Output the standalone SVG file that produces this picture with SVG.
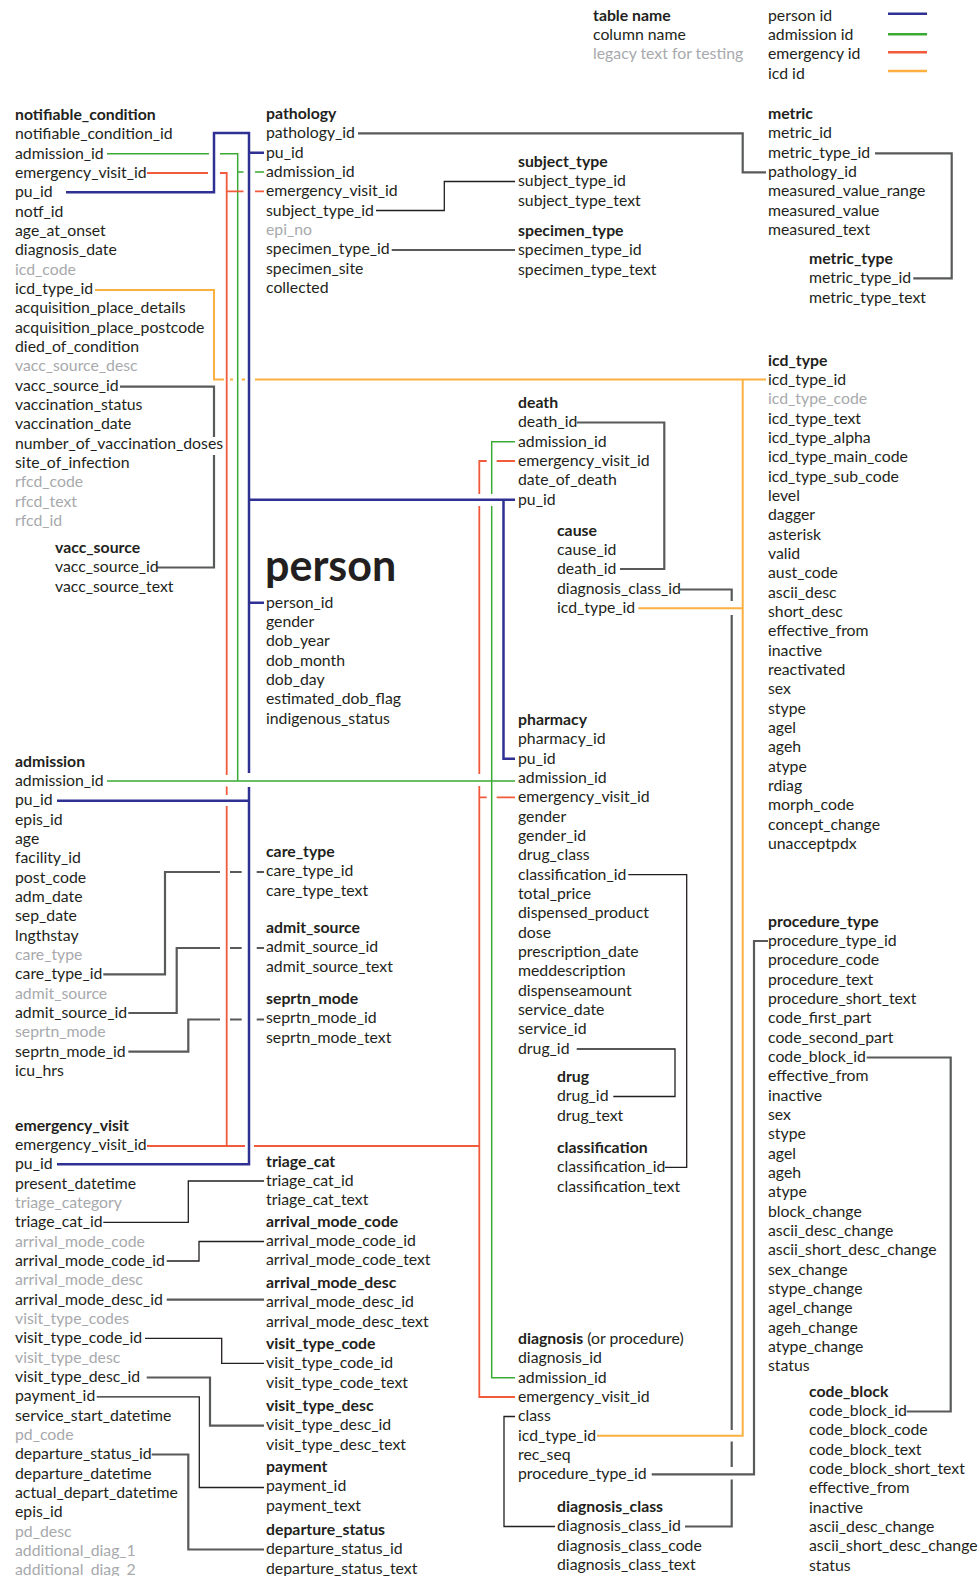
<svg xmlns="http://www.w3.org/2000/svg" width="979" height="1576" viewBox="0 0 979 1576">
<style>
text{font-family:Lato,"Liberation Sans",sans-serif;font-size:15.8px;fill:#231f20}
.b{font-weight:bold}
.g{fill:#a7a9ac}
.big{font-size:43px;font-weight:bold}
path{fill:none;stroke-linejoin:miter}
.bl{stroke:#2e3192;stroke-width:2.5}
.gr{stroke:#3aaa35;stroke-width:1.5}
.rd{stroke:#f15a3a;stroke-width:1.8}
.or{stroke:#fbb040;stroke-width:2}
.k{stroke:#58595b;stroke-width:2.2}
.k1{stroke:#231f20;stroke-width:1.3}
</style>
<g id="legend">
<text x="593" y="20.7"><tspan class="b">table name</tspan><tspan x="593" dy="19.33">column name</tspan><tspan x="593" dy="19.33" class="g">legacy text for testing</tspan></text>
<text x="768" y="20.7">person id<tspan x="768" dy="19.33">admission id</tspan><tspan x="768" dy="19.33">emergency id</tspan><tspan x="768" dy="19.33">icd id</tspan></text>
<path class="bl" d="M888,13.7H927"/>
<path class="gr" d="M888,34.3H927" style="stroke-width:2.5"/>
<path class="rd" d="M888,52.3H927" style="stroke-width:2.5"/>
<path class="or" d="M888,71H927" style="stroke-width:2.5"/>
</g>
<g id="connectors">
<path class="bl" d="M66,192.3H214V133H249V773M249,787V1164.3H57M249,152.7H264M249,602.7H264M249,499.7H515M503.5,499.7V758.7H515M57,800.7H249"/>
<path class="gr" d="M107,153.7H209M220,153.7H237.7V781M237.7,172H243.5M255,172H264M107,781H515M515,441.7H491.7V494M491.7,506V1377.7H515"/>
<path class="rd" d="M147,173H208M220,173H226.7V775M226.7,786.5V795M226.7,806V1146M147,1146H245M254,1146H479.3M226.7,191.3H243.5M255,191.3H264M515,461H496.7M486.7,461H479.3V494M479.3,506V774M479.3,786V1397H515M515,797.3H496.7M486.7,797.3H479.3"/>
<path class="or" d="M95,290H214V379.5H224M230,379.5H233M241.7,379.5H245M255,379.5H766M742.7,379.5V1435.7H597M638.3,608.3H742.7"/>
<path class="k" d="M358,133.3H742.7V172.3H766M391.7,250H515M875,153.3H951.7V278.3H913.3M120,386.7H214V437M214,455V567.5H156.7M576.7,422.5H664.3V569H620M680,589.5H731.7V601M731.7,615V1430M731.7,1441.5V1467M731.7,1479.5V1526.5H685M651.7,1474.3H754V941H768M866.7,1057.5H950.7V1411.5H906.7"/>
<path class="k1" d="M376,210.5H444.3V181.5H515M576.7,1049H675V1096.5H613.3M628.3,874.7H686.7V1167.3H665M515,1416.5H504V1526.5H555"/>
<path class="k" d="M103.3,974.3H165V872H220M230,872H241.7M256.7,872H264M128.3,1013H176.7V948H220M230,948H241.7M256.7,948H264M128.3,1051.7H188.3V1019.5H220M230,1019.5H241.7M256.7,1019.5H264"/>
<path class="k1" d="M103.3,1222.3H188.3V1181H264M166.7,1261H199V1241.5H264M145,1338.3H221.7V1363.3H264M96.7,1396.8H199.3V1487.5H264"/>
<path class="k" d="M166.7,1299.7H264M146.7,1377.5H210V1425.7H264M151.7,1454.5H188.3V1549.5H264"/>
</g>
<g id="notifiable_condition">
<text x="15" y="120"><tspan class="b">notifiable_condition</tspan><tspan x="15" dy="19.33">notifiable_condition_id</tspan><tspan x="15" dy="19.33">admission_id</tspan><tspan x="15" dy="19.33">emergency_visit_id</tspan><tspan x="15" dy="19.33">pu_id</tspan><tspan x="15" dy="19.33">notf_id</tspan><tspan x="15" dy="19.33">age_at_onset</tspan><tspan x="15" dy="19.33">diagnosis_date</tspan><tspan x="15" dy="19.33" class="g">icd_code</tspan><tspan x="15" dy="19.33">icd_type_id</tspan><tspan x="15" dy="19.33">acquisition_place_details</tspan><tspan x="15" dy="19.33">acquisition_place_postcode</tspan><tspan x="15" dy="19.33">died_of_condition</tspan><tspan x="15" dy="19.33" class="g">vacc_source_desc</tspan><tspan x="15" dy="19.33">vacc_source_id</tspan><tspan x="15" dy="19.33">vaccination_status</tspan><tspan x="15" dy="19.33">vaccination_date</tspan><tspan x="15" dy="19.33">number_of_vaccination_doses</tspan><tspan x="15" dy="19.33">site_of_infection</tspan><tspan x="15" dy="19.33" class="g">rfcd_code</tspan><tspan x="15" dy="19.33" class="g">rfcd_text</tspan><tspan x="15" dy="19.33" class="g">rfcd_id</tspan></text>
</g>
<g id="vacc_source">
<text x="55" y="553"><tspan class="b">vacc_source</tspan><tspan x="55" dy="19.33">vacc_source_id</tspan><tspan x="55" dy="19.33">vacc_source_text</tspan></text>
</g>
<g id="admission">
<text x="15" y="766.7"><tspan class="b">admission</tspan><tspan x="15" dy="19.33">admission_id</tspan><tspan x="15" dy="19.33">pu_id</tspan><tspan x="15" dy="19.33">epis_id</tspan><tspan x="15" dy="19.33">age</tspan><tspan x="15" dy="19.33">facility_id</tspan><tspan x="15" dy="19.33">post_code</tspan><tspan x="15" dy="19.33">adm_date</tspan><tspan x="15" dy="19.33">sep_date</tspan><tspan x="15" dy="19.33">lngthstay</tspan><tspan x="15" dy="19.33" class="g">care_type</tspan><tspan x="15" dy="19.33">care_type_id</tspan><tspan x="15" dy="19.33" class="g">admit_source</tspan><tspan x="15" dy="19.33">admit_source_id</tspan><tspan x="15" dy="19.33" class="g">seprtn_mode</tspan><tspan x="15" dy="19.33">seprtn_mode_id</tspan><tspan x="15" dy="19.33">icu_hrs</tspan></text>
</g>
<g id="emergency_visit">
<text x="15" y="1130.7"><tspan class="b">emergency_visit</tspan><tspan x="15" dy="19.33">emergency_visit_id</tspan><tspan x="15" dy="19.33">pu_id</tspan><tspan x="15" dy="19.33">present_datetime</tspan><tspan x="15" dy="19.33" class="g">triage_category</tspan><tspan x="15" dy="19.33">triage_cat_id</tspan><tspan x="15" dy="19.33" class="g">arrival_mode_code</tspan><tspan x="15" dy="19.33">arrival_mode_code_id</tspan><tspan x="15" dy="19.33" class="g">arrival_mode_desc</tspan><tspan x="15" dy="19.33">arrival_mode_desc_id</tspan><tspan x="15" dy="19.33" class="g">visit_type_codes</tspan><tspan x="15" dy="19.33">visit_type_code_id</tspan><tspan x="15" dy="19.33" class="g">visit_type_desc</tspan><tspan x="15" dy="19.33">visit_type_desc_id</tspan><tspan x="15" dy="19.33">payment_id</tspan><tspan x="15" dy="19.33">service_start_datetime</tspan><tspan x="15" dy="19.33" class="g">pd_code</tspan><tspan x="15" dy="19.33">departure_status_id</tspan><tspan x="15" dy="19.33">departure_datetime</tspan><tspan x="15" dy="19.33">actual_depart_datetime</tspan><tspan x="15" dy="19.33">epis_id</tspan><tspan x="15" dy="19.33" class="g">pd_desc</tspan><tspan x="15" dy="19.33" class="g">additional_diag_1</tspan><tspan x="15" dy="19.33" class="g">additional_diag_2</tspan></text>
</g>
<g id="pathology">
<text x="266" y="119"><tspan class="b">pathology</tspan><tspan x="266" dy="19.33">pathology_id</tspan><tspan x="266" dy="19.33">pu_id</tspan><tspan x="266" dy="19.33">admission_id</tspan><tspan x="266" dy="19.33">emergency_visit_id</tspan><tspan x="266" dy="19.33">subject_type_id</tspan><tspan x="266" dy="19.33" class="g">epi_no</tspan><tspan x="266" dy="19.33">specimen_type_id</tspan><tspan x="266" dy="19.33">specimen_site</tspan><tspan x="266" dy="19.33">collected</tspan></text>
</g>
<g id="person">
<text x="265" y="581" class="big">person</text>
<text x="266" y="607.7">person_id<tspan x="266" dy="19.33">gender</tspan><tspan x="266" dy="19.33">dob_year</tspan><tspan x="266" dy="19.33">dob_month</tspan><tspan x="266" dy="19.33">dob_day</tspan><tspan x="266" dy="19.33">estimated_dob_flag</tspan><tspan x="266" dy="19.33">indigenous_status</tspan></text>
</g>
<g id="care_type"><text x="266" y="857"><tspan class="b">care_type</tspan><tspan x="266" dy="19.33">care_type_id</tspan><tspan x="266" dy="19.33">care_type_text</tspan></text></g>
<g id="admit_source"><text x="266" y="933"><tspan class="b">admit_source</tspan><tspan x="266" dy="19.33">admit_source_id</tspan><tspan x="266" dy="19.33">admit_source_text</tspan></text></g>
<g id="seprtn_mode"><text x="266" y="1004"><tspan class="b">seprtn_mode</tspan><tspan x="266" dy="19.33">seprtn_mode_id</tspan><tspan x="266" dy="19.33">seprtn_mode_text</tspan></text></g>
<g id="triage_cat"><text x="266" y="1166.7"><tspan class="b">triage_cat</tspan><tspan x="266" dy="19.33">triage_cat_id</tspan><tspan x="266" dy="19.33">triage_cat_text</tspan></text></g>
<g id="arrival_mode_code"><text x="266" y="1226.7"><tspan class="b">arrival_mode_code</tspan><tspan x="266" dy="19.33">arrival_mode_code_id</tspan><tspan x="266" dy="19.33">arrival_mode_code_text</tspan></text></g>
<g id="arrival_mode_desc"><text x="266" y="1288"><tspan class="b">arrival_mode_desc</tspan><tspan x="266" dy="19.33">arrival_mode_desc_id</tspan><tspan x="266" dy="19.33">arrival_mode_desc_text</tspan></text></g>
<g id="visit_type_code"><text x="266" y="1349"><tspan class="b">visit_type_code</tspan><tspan x="266" dy="19.33">visit_type_code_id</tspan><tspan x="266" dy="19.33">visit_type_code_text</tspan></text></g>
<g id="visit_type_desc"><text x="266" y="1411"><tspan class="b">visit_type_desc</tspan><tspan x="266" dy="19.33">visit_type_desc_id</tspan><tspan x="266" dy="19.33">visit_type_desc_text</tspan></text></g>
<g id="payment"><text x="266" y="1472"><tspan class="b">payment</tspan><tspan x="266" dy="19.33">payment_id</tspan><tspan x="266" dy="19.33">payment_text</tspan></text></g>
<g id="departure_status"><text x="266" y="1535"><tspan class="b">departure_status</tspan><tspan x="266" dy="19.33">departure_status_id</tspan><tspan x="266" dy="19.33">departure_status_text</tspan></text></g>
<g id="subject_type"><text x="518" y="167"><tspan class="b">subject_type</tspan><tspan x="518" dy="19.33">subject_type_id</tspan><tspan x="518" dy="19.33">subject_type_text</tspan></text></g>
<g id="specimen_type"><text x="518" y="236"><tspan class="b">specimen_type</tspan><tspan x="518" dy="19.33">specimen_type_id</tspan><tspan x="518" dy="19.33">specimen_type_text</tspan></text></g>
<g id="death"><text x="518" y="408"><tspan class="b">death</tspan><tspan x="518" dy="19.33">death_id</tspan><tspan x="518" dy="19.33">admission_id</tspan><tspan x="518" dy="19.33">emergency_visit_id</tspan><tspan x="518" dy="19.33">date_of_death</tspan><tspan x="518" dy="19.33">pu_id</tspan></text></g>
<g id="cause"><text x="557" y="535.7"><tspan class="b">cause</tspan><tspan x="557" dy="19.33">cause_id</tspan><tspan x="557" dy="19.33">death_id</tspan><tspan x="557" dy="19.33">diagnosis_class_id</tspan><tspan x="557" dy="19.33">icd_type_id</tspan></text></g>
<g id="pharmacy"><text x="518" y="725"><tspan class="b">pharmacy</tspan><tspan x="518" dy="19.33">pharmacy_id</tspan><tspan x="518" dy="19.33">pu_id</tspan><tspan x="518" dy="19.33">admission_id</tspan><tspan x="518" dy="19.33">emergency_visit_id</tspan><tspan x="518" dy="19.33">gender</tspan><tspan x="518" dy="19.33">gender_id</tspan><tspan x="518" dy="19.33">drug_class</tspan><tspan x="518" dy="19.33">classification_id</tspan><tspan x="518" dy="19.33">total_price</tspan><tspan x="518" dy="19.33">dispensed_product</tspan><tspan x="518" dy="19.33">dose</tspan><tspan x="518" dy="19.33">prescription_date</tspan><tspan x="518" dy="19.33">meddescription</tspan><tspan x="518" dy="19.33">dispenseamount</tspan><tspan x="518" dy="19.33">service_date</tspan><tspan x="518" dy="19.33">service_id</tspan><tspan x="518" dy="19.33">drug_id</tspan></text></g>
<g id="drug"><text x="557" y="1082"><tspan class="b">drug</tspan><tspan x="557" dy="19.33">drug_id</tspan><tspan x="557" dy="19.33">drug_text</tspan></text></g>
<g id="classification"><text x="557" y="1153"><tspan class="b">classification</tspan><tspan x="557" dy="19.33">classification_id</tspan><tspan x="557" dy="19.33">classification_text</tspan></text></g>
<g id="diagnosis"><text x="518" y="1344"><tspan class="b">diagnosis</tspan> (or procedure)<tspan x="518" dy="19.33">diagnosis_id</tspan><tspan x="518" dy="19.33">admission_id</tspan><tspan x="518" dy="19.33">emergency_visit_id</tspan><tspan x="518" dy="19.33">class</tspan><tspan x="518" dy="19.33">icd_type_id</tspan><tspan x="518" dy="19.33">rec_seq</tspan><tspan x="518" dy="19.33">procedure_type_id</tspan></text></g>
<g id="diagnosis_class"><text x="557" y="1512"><tspan class="b">diagnosis_class</tspan><tspan x="557" dy="19.33">diagnosis_class_id</tspan><tspan x="557" dy="19.33">diagnosis_class_code</tspan><tspan x="557" dy="19.33">diagnosis_class_text</tspan></text></g>
<g id="metric"><text x="768" y="119"><tspan class="b">metric</tspan><tspan x="768" dy="19.33">metric_id</tspan><tspan x="768" dy="19.33">metric_type_id</tspan><tspan x="768" dy="19.33">pathology_id</tspan><tspan x="768" dy="19.33">measured_value_range</tspan><tspan x="768" dy="19.33">measured_value</tspan><tspan x="768" dy="19.33">measured_text</tspan></text></g>
<g id="metric_type"><text x="809" y="264"><tspan class="b">metric_type</tspan><tspan x="809" dy="19.33">metric_type_id</tspan><tspan x="809" dy="19.33">metric_type_text</tspan></text></g>
<g id="icd_type"><text x="768" y="365.7"><tspan class="b">icd_type</tspan><tspan x="768" dy="19.33">icd_type_id</tspan><tspan x="768" dy="19.33" class="g">icd_type_code</tspan><tspan x="768" dy="19.33">icd_type_text</tspan><tspan x="768" dy="19.33">icd_type_alpha</tspan><tspan x="768" dy="19.33">icd_type_main_code</tspan><tspan x="768" dy="19.33">icd_type_sub_code</tspan><tspan x="768" dy="19.33">level</tspan><tspan x="768" dy="19.33">dagger</tspan><tspan x="768" dy="19.33">asterisk</tspan><tspan x="768" dy="19.33">valid</tspan><tspan x="768" dy="19.33">aust_code</tspan><tspan x="768" dy="19.33">ascii_desc</tspan><tspan x="768" dy="19.33">short_desc</tspan><tspan x="768" dy="19.33">effective_from</tspan><tspan x="768" dy="19.33">inactive</tspan><tspan x="768" dy="19.33">reactivated</tspan><tspan x="768" dy="19.33">sex</tspan><tspan x="768" dy="19.33">stype</tspan><tspan x="768" dy="19.33">agel</tspan><tspan x="768" dy="19.33">ageh</tspan><tspan x="768" dy="19.33">atype</tspan><tspan x="768" dy="19.33">rdiag</tspan><tspan x="768" dy="19.33">morph_code</tspan><tspan x="768" dy="19.33">concept_change</tspan><tspan x="768" dy="19.33">unacceptpdx</tspan></text></g>
<g id="procedure_type"><text x="768" y="926.7"><tspan class="b">procedure_type</tspan><tspan x="768" dy="19.33">procedure_type_id</tspan><tspan x="768" dy="19.33">procedure_code</tspan><tspan x="768" dy="19.33">procedure_text</tspan><tspan x="768" dy="19.33">procedure_short_text</tspan><tspan x="768" dy="19.33">code_first_part</tspan><tspan x="768" dy="19.33">code_second_part</tspan><tspan x="768" dy="19.33">code_block_id</tspan><tspan x="768" dy="19.33">effective_from</tspan><tspan x="768" dy="19.33">inactive</tspan><tspan x="768" dy="19.33">sex</tspan><tspan x="768" dy="19.33">stype</tspan><tspan x="768" dy="19.33">agel</tspan><tspan x="768" dy="19.33">ageh</tspan><tspan x="768" dy="19.33">atype</tspan><tspan x="768" dy="19.33">block_change</tspan><tspan x="768" dy="19.33">ascii_desc_change</tspan><tspan x="768" dy="19.33">ascii_short_desc_change</tspan><tspan x="768" dy="19.33">sex_change</tspan><tspan x="768" dy="19.33">stype_change</tspan><tspan x="768" dy="19.33">agel_change</tspan><tspan x="768" dy="19.33">ageh_change</tspan><tspan x="768" dy="19.33">atype_change</tspan><tspan x="768" dy="19.33">status</tspan></text></g>
<g id="code_block"><text x="809" y="1396.7"><tspan class="b">code_block</tspan><tspan x="809" dy="19.33">code_block_id</tspan><tspan x="809" dy="19.33">code_block_code</tspan><tspan x="809" dy="19.33">code_block_text</tspan><tspan x="809" dy="19.33">code_block_short_text</tspan><tspan x="809" dy="19.33">effective_from</tspan><tspan x="809" dy="19.33">inactive</tspan><tspan x="809" dy="19.33">ascii_desc_change</tspan><tspan x="809" dy="19.33">ascii_short_desc_change</tspan><tspan x="809" dy="19.33">status</tspan></text></g>
</svg>
